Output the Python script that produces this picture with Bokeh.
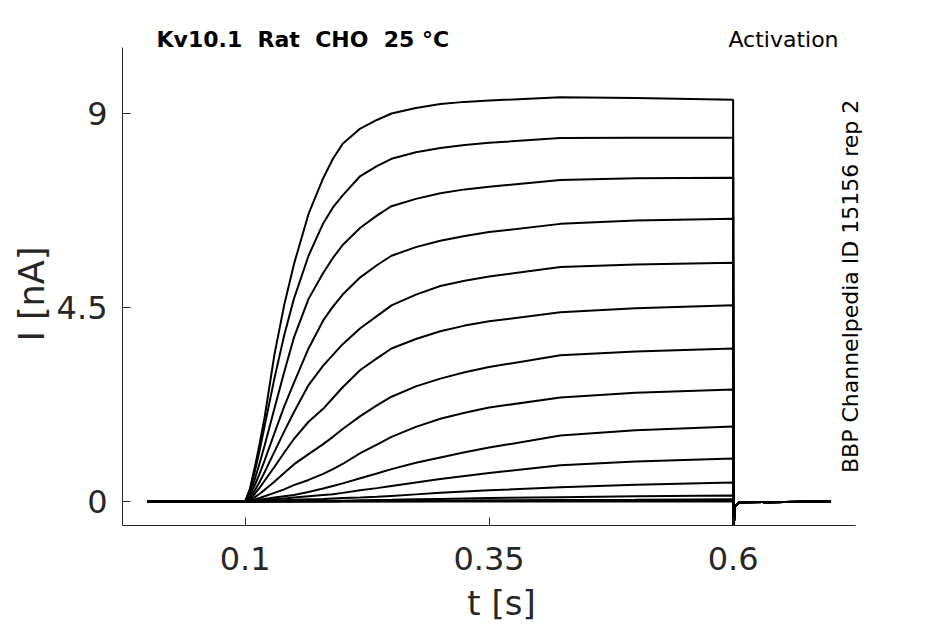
from math import pi
from bokeh.plotting import figure
from bokeh.models import Range1d, FixedTicker, Label, ColumnDataSource, Title
from bokeh.embed import file_html
from bokeh.resources import INLINE

# time samples of the activation step [s]
t_step = [0.0, 0.1, 0.105, 0.11, 0.115, 0.12, 0.13, 0.14, 0.15, 0.165, 0.18, 0.19,
          0.2, 0.218, 0.235, 0.25, 0.275, 0.3, 0.325, 0.35, 0.423, 0.5, 0.6]
# after the step: tail current (same for every sweep)
t_tail = [0.6005, 0.602, 0.606, 0.7]
i_tail = [-0.6, -0.12, -0.02, 0.0]

# current [nA] of each sweep at t_step
tr1 = [0, 0, 0.3, 0.8, 1.35, 1.95, 3.4, 4.55, 5.5, 6.67, 7.5, 7.95,
       8.3, 8.65, 8.85, 9.0, 9.13, 9.22, 9.27, 9.3, 9.38, 9.36, 9.32]
tr2 = [0, 0, 0.25, 0.7, 1.2, 1.75, 2.85, 3.85, 4.7, 5.7, 6.45, 6.82,
       7.1, 7.55, 7.78, 7.95, 8.1, 8.2, 8.27, 8.32, 8.43, 8.44, 8.44]
tr3 = [0, 0, 0.19, 0.52, 0.9, 1.3, 2.15, 3.0, 3.8, 4.7, 5.3, 5.65,
       5.95, 6.35, 6.63, 6.85, 7.02, 7.15, 7.24, 7.3, 7.46, 7.5, 7.51]
tr4 = [0, 0, 0.14, 0.38, 0.65, 0.95, 1.58, 2.2, 2.75, 3.55, 4.2, 4.52,
       4.8, 5.2, 5.48, 5.7, 5.9, 6.05, 6.16, 6.25, 6.44, 6.52, 6.56]
tr5 = [0, 0, 0.09, 0.26, 0.46, 0.68, 1.15, 1.62, 2.07, 2.7, 3.15, 3.4,
       3.65, 4.02, 4.3, 4.55, 4.8, 5.0, 5.12, 5.22, 5.44, 5.5, 5.54]
tr6 = [0, 0, 0.06, 0.18, 0.32, 0.48, 0.8, 1.13, 1.45, 1.85, 2.15, 2.4,
       2.65, 3.05, 3.32, 3.55, 3.77, 3.95, 4.08, 4.18, 4.39, 4.48, 4.55]
tr7 = [0, 0, 0.035, 0.1, 0.18, 0.27, 0.46, 0.66, 0.86, 1.1, 1.33, 1.5,
       1.68, 1.98, 2.23, 2.43, 2.67, 2.85, 3.0, 3.12, 3.39, 3.48, 3.55]
tr8 = [0, 0, 0.015, 0.045, 0.08, 0.12, 0.2, 0.28, 0.38, 0.5, 0.64, 0.75,
       0.87, 1.12, 1.32, 1.5, 1.73, 1.92, 2.06, 2.18, 2.41, 2.52, 2.6]
tr9 = [0, 0, 0.01, 0.025, 0.04, 0.06, 0.09, 0.12, 0.15, 0.22, 0.3, 0.36,
       0.42, 0.54, 0.65, 0.75, 0.9, 1.02, 1.14, 1.25, 1.53, 1.65, 1.74]
tr10 = [0, 0, 0, 0.01, 0.02, 0.03, 0.05, 0.07, 0.09, 0.12, 0.15, 0.17,
        0.2, 0.26, 0.31, 0.36, 0.44, 0.52, 0.59, 0.66, 0.84, 0.93, 1.0]
tr11 = [0, 0, 0, 0, 0.005, 0.01, 0.02, 0.03, 0.04, 0.05, 0.06, 0.07,
        0.08, 0.09, 0.11, 0.13, 0.165, 0.2, 0.23, 0.26, 0.33, 0.39, 0.44]
tr12 = [0, 0, 0, 0, 0, 0, 0.005, 0.01, 0.01, 0.015, 0.02, 0.02,
        0.02, 0.03, 0.035, 0.04, 0.05, 0.06, 0.07, 0.08, 0.1, 0.12, 0.14]
tr13 = [0, 0, 0, 0, 0, 0, 0, 0, 0, 0.005, 0.005, 0.008,
        0.01, 0.01, 0.012, 0.015, 0.018, 0.02, 0.025, 0.03, 0.035, 0.04, 0.05]
tr14 = [0, 0, 0, 0, 0, 0, 0, 0, 0, 0, 0, 0,
        0.005, 0.005, 0.005, 0.005, 0.008, 0.01, 0.01, 0.01, 0.015, 0.015, 0.02]
tr15 = [0, 0, 0, 0, 0, 0, 0, 0, 0, 0, 0, 0,
        0, 0, 0, 0, 0, 0, 0, 0, 0, 0, 0]
traces = [tr1, tr2, tr3, tr4, tr5, tr6, tr7, tr8, tr9, tr10, tr11, tr12, tr13, tr14, tr15]

x_ticks = [0.1, 0.35, 0.6]
x_tick_labels = ["0.1", "0.35", "0.6"]
y_ticks = [0, 4.5, 9]
y_tick_labels = ["0", "4.5", "9"]
x_axis_span = (-0.0256, 0.7254)
y_axis_span = (-0.557, 10.53)

title_left = "Kv10.1 \u00a0Rat \u00a0CHO \u00a025 °C"
title_right = "Activation"
side_text = "BBP Channelpedia ID 15156 rep 2"

FONT = "DejaVu Sans"
GREY = "#262626"

p = figure(frame_width=758, frame_height=496,
           x_range=Range1d(-0.0256, 0.7510), y_range=Range1d(-0.557, 10.949),
           output_backend="svg", toolbar_location=None,
           min_border_left=122, min_border_right=65,
           min_border_top=29, min_border_bottom=99)
p.outline_line_color = None
p.xgrid.visible = False
p.ygrid.visible = False
p.background_fill_color = "white"
p.border_fill_color = "white"

src = ColumnDataSource(dict(xs=[t_step + t_tail for _ in traces],
                            ys=[tr + i_tail for tr in traces]))
p.multi_line(xs="xs", ys="ys", source=src, line_color="black", line_width=2)

for ax in (p.xaxis[0], p.yaxis[0]):
    ax.axis_line_color = GREY
    ax.axis_line_width = 1
    ax.major_tick_line_color = GREY
    ax.major_tick_in = 8
    ax.major_tick_out = 0
    ax.minor_tick_line_color = None
    ax.major_label_text_font = FONT
    ax.major_label_text_font_size = "32px"
    ax.major_label_text_color = GREY
    ax.axis_label_text_font = FONT
    ax.axis_label_text_font_size = "34px"
    ax.axis_label_text_font_style = "normal"
    ax.axis_label_text_color = GREY

p.xaxis.ticker = FixedTicker(ticks=x_ticks)
p.xaxis.major_label_overrides = dict(zip(x_ticks, x_tick_labels))
p.xaxis.bounds = x_axis_span
p.yaxis.ticker = FixedTicker(ticks=y_ticks)
p.yaxis.major_label_overrides = dict(zip(y_ticks, y_tick_labels))
p.yaxis.bounds = y_axis_span
p.xaxis.axis_label = "t [s]"
p.xaxis.major_label_standoff = 21
p.xaxis.axis_label_standoff = 10
p.yaxis.major_label_standoff = 15

# y axis title, centred on the drawn axis span rather than the frame
p.add_layout(Title(text="I [nA]", align="left", offset=184, standoff=4,
                   text_font=FONT, text_font_size="35px",
                   text_font_style="normal", text_color=GREY), "left")

p.add_layout(Label(x=0.0093, y=10.716, text=title_left, text_font=FONT,
                   text_font_style="bold", text_font_size="22px",
                   text_color="black", text_align="left",
                   text_baseline="alphabetic"))
p.add_layout(Label(x=0.708, y=10.716, text=title_right, text_font=FONT,
                   text_font_size="22px", text_color="black",
                   text_align="right", text_baseline="alphabetic"))
p.add_layout(Label(x=0.7203, y=4.99, text=side_text, text_font=FONT,
                   text_font_size="22px", text_color="black", angle=pi / 2,
                   text_align="center", text_baseline="alphabetic"))

open("out.html", "w").write(file_html(p, INLINE))
